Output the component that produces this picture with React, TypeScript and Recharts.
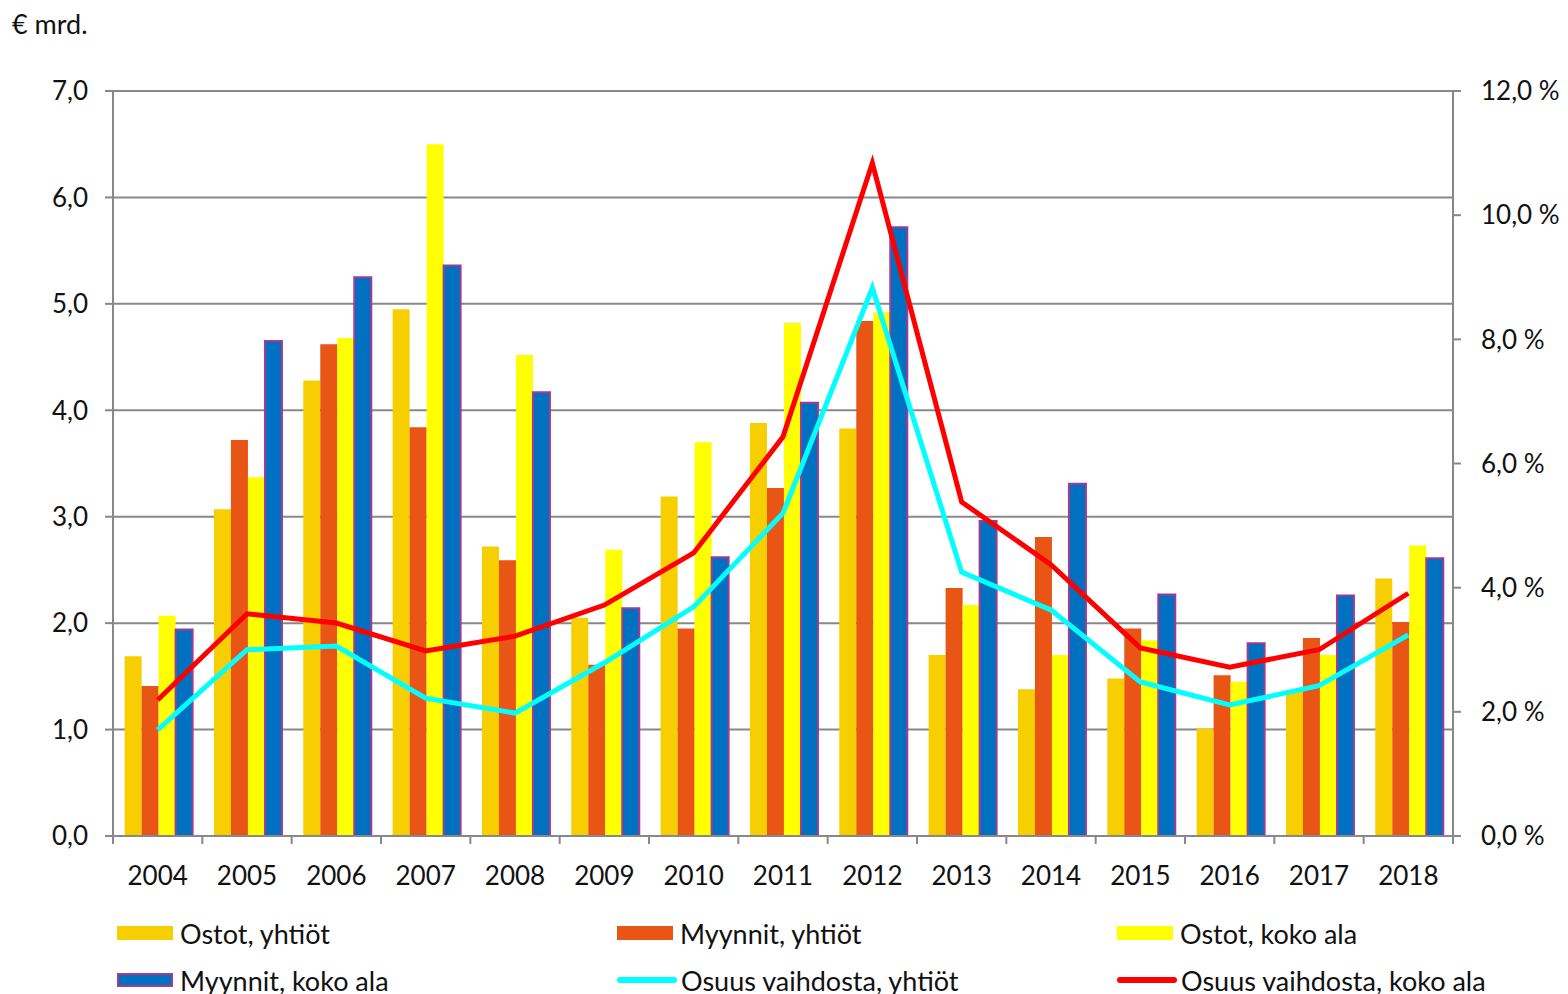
import React from 'react';
import { ComposedChart, Bar, Line, XAxis, YAxis, CartesianGrid } from 'recharts';

const years = ['2004', '2005', '2006', '2007', '2008', '2009', '2010', '2011', '2012', '2013', '2014', '2015', '2016', '2017', '2018'];
const ostotYhtiot = [1.69, 3.07, 4.28, 4.95, 2.72, 2.05, 3.19, 3.88, 3.83, 1.70, 1.38, 1.48, 1.01, 1.37, 2.42];
const myynnitYhtiot = [1.41, 3.72, 4.62, 3.84, 2.59, 1.61, 1.95, 3.27, 4.84, 2.33, 2.81, 1.95, 1.51, 1.86, 2.01];
const ostotKokoAla = [2.07, 3.37, 4.68, 6.50, 4.52, 2.69, 3.70, 4.82, 4.92, 2.17, 1.70, 1.84, 1.45, 1.70, 2.73];
const myynnitKokoAla = [1.94, 4.65, 5.25, 5.36, 4.17, 2.14, 2.62, 4.07, 5.72, 2.96, 3.31, 2.27, 1.81, 2.26, 2.61];
const osuusYhtiot = [1.71, 3.00, 3.06, 2.22, 1.98, 2.79, 3.69, 5.20, 8.83, 4.25, 3.64, 2.48, 2.11, 2.42, 3.24];
const osuusKokoAla = [2.19, 3.58, 3.43, 2.98, 3.22, 3.72, 4.56, 6.43, 10.84, 5.38, 4.37, 3.03, 2.72, 3.00, 3.91];

const leftTicks = [0, 1, 2, 3, 4, 5, 6, 7];
const rightTicks = [0, 2, 4, 6, 8, 10, 12];

const data = years.map((year, i) => ({
  year,
  ostotYhtiot: ostotYhtiot[i],
  myynnitYhtiot: myynnitYhtiot[i],
  ostotKokoAla: ostotKokoAla[i],
  myynnitKokoAla: myynnitKokoAla[i],
  osuusYhtiot: osuusYhtiot[i],
  osuusKokoAla: osuusKokoAla[i],
}));

const FONT = 'Lato, "Open Sans", sans-serif';
const AXIS = '#888888';
const W = 1568;
const H = 994;
const PLOT_LEFT = 113;
const PLOT_RIGHT = 1453;
const PLOT_BOTTOM = 836;
const BAND = (PLOT_RIGHT - PLOT_LEFT) / years.length;

const legendItems = [
  { label: 'Ostot, yhtiöt', color: '#F7CF00', kind: 'bar' },
  { label: 'Myynnit, yhtiöt', color: '#E85514', kind: 'bar' },
  { label: 'Ostot, koko ala', color: '#FFFF00', kind: 'bar' },
  { label: 'Myynnit, koko ala', color: '#0070C0', kind: 'bar', border: '#A23B93' },
  { label: 'Osuus vaihdosta, yhtiöt', color: '#00FFFF', kind: 'line' },
  { label: 'Osuus vaihdosta, koko ala', color: '#FF0000', kind: 'line' },
];

const YearTick = (props: any) => {
  const { x, y, payload, index } = props;
  const left = x - BAND / 2;
  return (
    <g>
      <line x1={left} y1={y - 8} x2={left} y2={y} stroke={AXIS} strokeWidth={2} />
      {index === years.length - 1 && (
        <line x1={x + BAND / 2} y1={y - 8} x2={x + BAND / 2} y2={y} stroke={AXIS} strokeWidth={2} />
      )}
      <text x={x} y={y + 41} textAnchor="middle" fontSize={26} fontFamily={FONT} fill="#111">
        {payload.value}
      </text>
    </g>
  );
};

const ChartLegend = () => (
  <div style={{ position: 'absolute', left: 0, top: 918, width: W, height: 76, fontFamily: FONT, fontSize: 27, color: '#111' }}>
    {legendItems.map((item, i) => {
      const col = i % 3;
      const row = Math.floor(i / 3);
      const left = [117, 617, 1117][col];
      const top = row * 47;
      return (
        <div key={item.label} style={{ position: 'absolute', left, top, display: 'flex', alignItems: 'center', height: 30 }}>
          {item.kind === 'bar' ? (
            <div style={{ width: 56, height: 14, background: item.color, boxSizing: 'border-box', border: item.border ? `2px solid ${item.border}` : 'none' }} />
          ) : (
            <div style={{ width: 60, height: 6, background: item.color, borderRadius: 3 }} />
          )}
          <span style={{ marginLeft: item.kind === 'bar' ? 7 : 4, whiteSpace: 'nowrap' }}>{item.label}</span>
        </div>
      );
    })}
  </div>
);

export default function App() {
  return (
    <div style={{ position: 'absolute', left: 0, top: 0, width: W, height: H, background: '#fff', fontFamily: FONT }}>
      <div style={{ position: 'absolute', left: 12, top: 7, fontSize: 27, color: '#111' }}>€ mrd.</div>
      <ComposedChart
        width={W}
        height={H}
        data={data}
        margin={{ top: 91, left: PLOT_LEFT - 70, right: W - PLOT_RIGHT - 115, bottom: 0 }}
        barCategoryGap="13%"
        barGap={0}
      >
        <CartesianGrid yAxisId="left" vertical={false} stroke={AXIS} strokeWidth={2} />
        <XAxis
          dataKey="year"
          height={H - PLOT_BOTTOM}
          tick={<YearTick />}
          tickLine={false}
          axisLine={{ stroke: AXIS, strokeWidth: 2 }}
          interval={0}
        />
        <YAxis
          yAxisId="left"
          width={70}
          domain={[0, 7]}
          ticks={leftTicks}
          tickFormatter={(v: number) => v.toFixed(1).replace('.', ',')}
          tick={{ fontSize: 26, fontFamily: FONT, fill: '#111' }}
          tickSize={8}
          tickMargin={17}
          tickLine={{ stroke: AXIS, strokeWidth: 2 }}
          axisLine={{ stroke: AXIS, strokeWidth: 2 }}
        />
        <YAxis
          yAxisId="right"
          orientation="right"
          width={115}
          domain={[0, 12]}
          ticks={rightTicks}
          tickFormatter={(v: number) => v.toFixed(1).replace('.', ',') + ' %'}
          tick={{ fontSize: 26, fontFamily: FONT, fill: '#111' }}
          tickSize={8}
          tickMargin={20}
          tickLine={{ stroke: AXIS, strokeWidth: 2 }}
          axisLine={{ stroke: AXIS, strokeWidth: 2 }}
        />
        <Bar yAxisId="left" dataKey="ostotYhtiot" fill="#F7CF00" isAnimationActive={false} />
        <Bar yAxisId="left" dataKey="myynnitYhtiot" fill="#E85514" isAnimationActive={false} />
        <Bar yAxisId="left" dataKey="ostotKokoAla" fill="#FFFF00" isAnimationActive={false} />
        <Bar yAxisId="left" dataKey="myynnitKokoAla" fill="#0070C0" stroke="#A23B93" strokeWidth={2} isAnimationActive={false} />
        <Line yAxisId="right" type="linear" dataKey="osuusYhtiot" stroke="#00FFFF" strokeWidth={5} dot={false} isAnimationActive={false} />
        <Line yAxisId="right" type="linear" dataKey="osuusKokoAla" stroke="#FF0000" strokeWidth={5} dot={false} isAnimationActive={false} />
      </ComposedChart>
      <ChartLegend />
    </div>
  );
}
